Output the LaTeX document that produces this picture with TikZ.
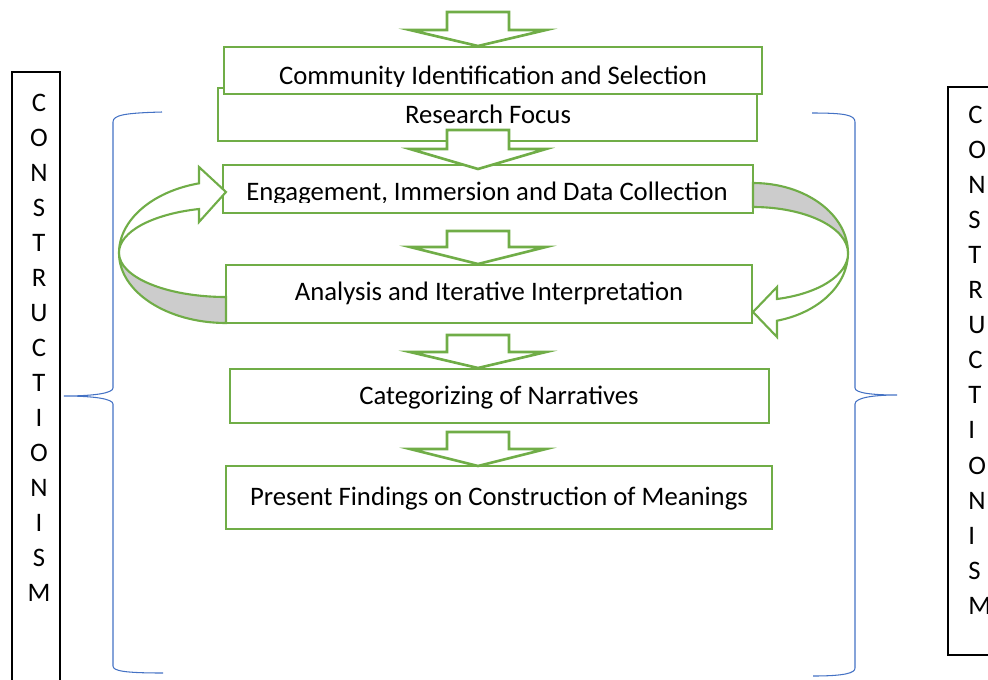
\documentclass[tikz,border=0pt]{standalone}
\usepackage{fontspec}
\setmainfont{Carlito}
\usetikzlibrary{fit}

\definecolor{stepgreen}{HTML}{70AD47}
\definecolor{braceblue}{HTML}{4472C4}
\definecolor{bandgray}{HTML}{CCCCCC}

\tikzset{
    stepbox/.style={draw=stepgreen, line width=1.5pt, fill=white, inner sep=0pt},
    steptext/.style={font=\fontsize{15.2}{18}\selectfont, inner sep=0pt},
    blockarrow/.style={draw=stepgreen, line width=1.5pt, fill=white, line join=miter},
    loopfront/.style={draw=stepgreen, line width=1.2pt, fill=white},
    loopback/.style={draw=stepgreen, line width=1.2pt, fill=bandgray},
    brace/.style={draw=braceblue, line width=0.6pt},
    sidebox/.style={draw=black, line width=1.3pt},
    sideletter/.style={font=\fontsize{15.2}{18}\selectfont, inner sep=0pt}
}

\begin{document}
\begin{tikzpicture}[x=0.02cm, y=-0.02cm]
    \useasboundingbox (0,0) rectangle (988,680);
    \begin{scope}
    \clip (0,0) rectangle (988,680);

    % Side columns
    \draw[sidebox] (12,72) rectangle (60,700);
    \draw[sidebox] (948,87) rectangle (1000,655);
    \foreach \ch [count=\i from 0] in {C,O,N,S,T,R,U,C,T,I,O,N,I,S,M} {
        \node[sideletter, anchor=base] (leftch\i) at (39, 111+35*\i) {\ch};
        \node[sideletter, anchor=base west] (rightch\i) at (968, 123+35.1*\i) {\ch};
    }

    % Braces
    \draw[brace] (162,112) .. controls (125,113) and (113,115) .. (113,122) -- (113,388)
        .. controls (113,393) and (95,396) .. (64,396) .. controls (95,396) and (113,399) .. (113,404)
        -- (113,666) .. controls (113,671) and (125,673) .. (163,673);
    \draw[brace] (812,113) .. controls (845,113) and (855,115) .. (855,122) -- (855,388)
        .. controls (855,393) and (872,395) .. (897,395) .. controls (872,395) and (855,398) .. (855,404)
        -- (855,668) .. controls (855,673) and (845,676) .. (813,676);

    % Steps
    \node[stepbox, fit={(218,88) (757,141)}] (focus) {};
    \node[steptext, anchor=base] (focustext) at (488,123) {Research Focus};
    \node[stepbox, fit={(224,47) (762,94)}] (community) {};
    \begin{scope}
        \clip (224,47) rectangle (762,86);
        \node[steptext, anchor=base] (communitytext) at (493,84) {Community Identification and Selection};
    \end{scope}
    \node[stepbox, fit={(223,165) (753,213)}] (engage) {};
    \begin{scope}
        \clip (223,165) rectangle (753,202);
        \node[steptext, anchor=base] (engagetext) at (487,200) {Engagement, Immersion and Data Collection};
    \end{scope}
    \node[stepbox, fit={(226,265) (752,323)}] (analysis) {};
    \node[steptext, anchor=base] (analysistext) at (489,300) {Analysis and Iterative Interpretation};
    \node[stepbox, fit={(230,369) (769,423)}] (narratives) {};
    \node[steptext, anchor=base] (narrativestext) at (499,404) {Categorizing of Narratives};
    \node[stepbox, fit={(226,466) (772,529)}] (findings) {};
    \node[steptext, anchor=base] (findingstext) at (499,505) {Present Findings on Construction of Meanings};

    % Block arrows between steps
    \draw[blockarrow] (447,12) -- (509,12) -- (509,30) -- (546,30) -- (478,46) -- (410,30) -- (447,30) -- cycle;
    \draw[blockarrow] (447,130) -- (509,130) -- (509,149) -- (546,149) -- (478,169) -- (410,149) -- (447,149) -- cycle;
    \draw[blockarrow] (447,231) -- (509,231) -- (509,247) -- (546,247) -- (478,264) -- (410,247) -- (447,247) -- cycle;
    \draw[blockarrow] (447,335) -- (509,335) -- (509,352) -- (546,352) -- (478,368) -- (410,352) -- (447,352) -- cycle;
    \draw[blockarrow] (447,432) -- (509,432) -- (509,449) -- (546,449) -- (478,466) -- (410,449) -- (447,449) -- cycle;

    % Loop back from analysis to engagement (left)
    \draw[loopback] (226,323) arc[start angle=90, end angle=180, x radius=107, y radius=70]
        arc[start angle=180, end angle=90, x radius=107, y radius=44] -- cycle;
    \draw[loopfront] (119,253) arc[start angle=180, end angle=255.4, x radius=107, y radius=72]
        -- (199,167) -- (226,192) -- (199,222) -- (199,209)
        arc[start angle=255.4, end angle=180, x radius=107, y radius=45] -- cycle;

    % Loop forward from engagement to analysis (right)
    \draw[loopback] (753,183) arc[start angle=270, end angle=360, x radius=95, y radius=70]
        arc[start angle=0, end angle=-90, x radius=95, y radius=46] -- cycle;
    \draw[loopfront] (848,253) arc[start angle=0, end angle=75.4, x radius=95, y radius=70]
        -- (777,337) -- (753,312) -- (777,287) -- (777,299)
        arc[start angle=75.4, end angle=0, x radius=95, y radius=47] -- cycle;
    \end{scope}
\end{tikzpicture}
\end{document}
